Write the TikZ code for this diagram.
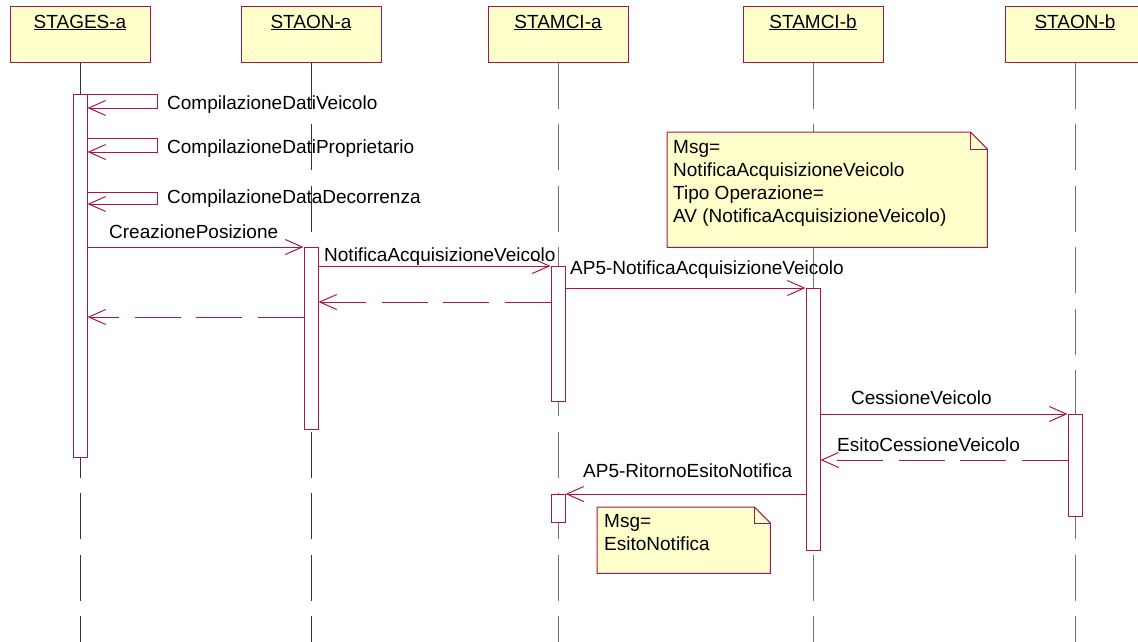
\documentclass[tikz,border=0pt]{standalone}
\usepackage{fontspec}
\setmainfont{Liberation Sans}
\usetikzlibrary{arrows.meta}
\definecolor{umlred}{HTML}{A8174A}
\definecolor{noteyel}{HTML}{FFFFCC}
\definecolor{lifedark}{HTML}{333333}
\definecolor{lifegray}{HTML}{707070}
\begin{document}
\begin{tikzpicture}[x=1pt,y=-1pt,
  txt/.style={font=\fontsize{19}{23}\selectfont, inner sep=0pt, text=black},
  hdr/.style={draw=umlred, fill=noteyel, line width=1pt, minimum width=140pt, minimum height=56pt, inner sep=0pt},
  life/.style={line width=1pt, dash pattern=on 46pt off 15.5pt},
  act/.style={draw=umlred, fill=white, line width=1pt, minimum width=14pt, inner sep=0pt, anchor=north},
  msg/.style={draw=umlred, line width=1pt, -{Straight Barb[length=17pt,width=15pt]}},
  ret/.style={msg, dash pattern=on 46pt off 15.5pt},
  notebg/.style={draw=umlred, fill=noteyel, line width=1pt, line join=miter},
  notefold/.style={draw=umlred, line width=1pt}]
\useasboundingbox (0,0) rectangle (1138,641);
\clip (0,0) rectangle (1138,641);

% headers
\node[hdr] (hA) at (80,34) {};
\node[hdr] (hB) at (311,34) {};
\node[hdr] (hC) at (558,34) {};
\node[hdr] (hD) at (813,34) {};
\node[hdr] (hE) at (1075,34) {};
\node[txt, anchor=base] (tA) at (hA |- 0,28) {\underline{STAGES-a}};
\node[txt, anchor=base] (tB) at (hB |- 0,28) {\underline{STAON-a}};
\node[txt, anchor=base] (tC) at (hC |- 0,28) {\underline{STAMCI-a}};
\node[txt, anchor=base] (tD) at (hD |- 0,28) {\underline{STAMCI-b}};
\node[txt, anchor=base] (tE) at (hE |- 0,28) {\underline{STAON-b}};

% lifelines
\coordinate (bot) at (0,660);
\draw[life, draw=lifedark] (hA.south) -- (hA.south |- bot);
\draw[life, draw=lifedark] (hB.south) -- (hB.south |- bot);
\draw[life, draw=lifegray] (hC.south) -- (hC.south |- bot);
\draw[life, draw=lifegray] (hD.south) -- (hD.south |- bot);
\draw[life, draw=lifegray] (hE.south) -- (hE.south |- bot);

% notes
\node[inner sep=0pt, minimum width=320pt, minimum height=115pt, anchor=north west] (n1) at (667,132) {};
\draw[notebg] (n1.north west) -- ([xshift=-17pt]n1.north east) -- ([yshift=-17pt]n1.north east) -- (n1.south east) -- (n1.south west) -- cycle;
\draw[notefold] ([xshift=-17pt]n1.north east) -- ([xshift=-17pt,yshift=-17pt]n1.north east) -- ([yshift=-17pt]n1.north east);
\node[txt, anchor=base west, align=left] (n1t) at (673,222) {Msg=\\NotificaAcquisizioneVeicolo\\Tipo Operazione=\\AV (NotificaAcquisizioneVeicolo)};

\node[inner sep=0pt, minimum width=173pt, minimum height=66pt, anchor=north west] (n2) at (597,507) {};
\draw[notebg] (n2.north west) -- ([xshift=-16pt]n2.north east) -- ([yshift=-16pt]n2.north east) -- (n2.south east) -- (n2.south west) -- cycle;
\draw[notefold] ([xshift=-16pt]n2.north east) -- ([xshift=-16pt,yshift=-16pt]n2.north east) -- ([yshift=-16pt]n2.north east);
\node[txt, anchor=base west, align=left] (n2t) at (604,550) {Msg=\\EsitoNotifica};

% activations
\node[act, minimum height=363pt] (aA) at (80,94) {};
\node[act, minimum height=182pt] (aB) at (311,247) {};
\node[act, minimum height=135pt] (aC1) at (558,266) {};
\node[act, minimum height=262pt] (aD) at (813,288) {};
\node[act, minimum height=102pt] (aE) at (1075,414) {};
\node[act, minimum height=28pt] (aC2) at (558,494) {};

% self messages
\coordinate (s1a) at (157,94);  \coordinate (s1b) at (157,108);
\coordinate (s2a) at (157,138); \coordinate (s2b) at (157,152);
\coordinate (s3a) at (157,192); \coordinate (s3b) at (157,204);
\draw[msg] (aA.east |- s1a) -- (s1a) -- (s1b) -- (aA.east |- s1b);
\draw[msg] (aA.east |- s2a) -- (s2a) -- (s2b) -- (aA.east |- s2b);
\draw[msg] (aA.east |- s3a) -- (s3a) -- (s3b) -- (aA.east |- s3b);
\node[txt, anchor=base west] (l1) at (167,109.5) {CompilazioneDatiVeicolo};
\node[txt, anchor=base west] (l2) at (167,153) {CompilazioneDatiProprietario};
\node[txt, anchor=base west] (l3) at (167,203) {CompilazioneDataDecorrenza};

% messages
\coordinate (r1) at (0,302);
\coordinate (r2) at (0,317);
\coordinate (r3) at (0,460);
\draw[msg] (aA.east |- aB.north) -- (aB.north west);
\node[txt, anchor=base west] (l4) at (109,238) {CreazionePosizione};
\draw[msg] (aB.east |- aC1.north) -- (aC1.north west);
\node[txt, anchor=base west] (l5) at (324,261) {NotificaAcquisizioneVeicolo};
\draw[ret] (aC1.west |- r1) -- (aB.east |- r1);
\draw[ret] (aB.west |- r2) -- (aA.east |- r2);
\draw[msg] (aC1.east |- aD.north) -- (aD.north west);
\node[txt, anchor=base west] (l6) at (570,274) {AP5-NotificaAcquisizioneVeicolo};
\draw[msg] (aD.east |- aE.north) -- (aE.north west);
\node[txt, anchor=base west] (l7) at (851,404) {CessioneVeicolo};
\draw[ret] (aE.west |- r3) -- (aD.east |- r3);
\node[txt, anchor=base west] (l8) at (837,451) {EsitoCessioneVeicolo};
\draw[msg] (aD.west |- aC2.north) -- (aC2.north east);
\node[txt, anchor=base west] (l9) at (583,477) {AP5-RitornoEsitoNotifica};
\end{tikzpicture}
\end{document}
